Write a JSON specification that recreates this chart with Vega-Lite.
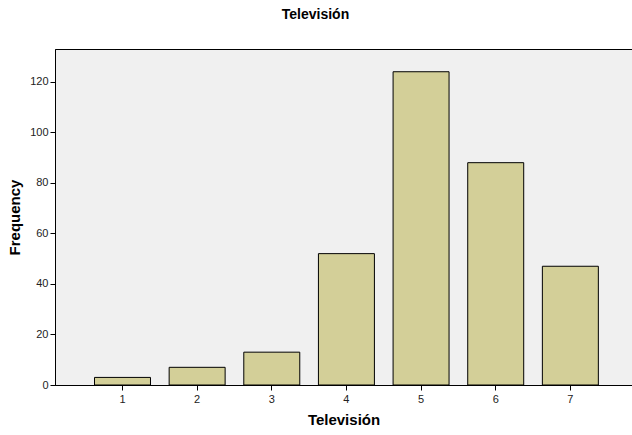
{
  "$schema": "https://vega.github.io/schema/vega-lite/v6.json",
  "width": 577,
  "height": 336,
  "autosize": {"type": "none"},
  "padding": {"left": 55, "top": 49, "right": 0, "bottom": 50},
  "background": "white",
  "title": {
    "text": "Televisión",
    "font": "Liberation Sans",
    "fontSize": 14,
    "fontWeight": "bold",
    "color": "black",
    "anchor": "middle",
    "frame": "group",
    "dx": -28,
    "offset": 27
  },
  "config": {
    "view": {"fill": "#f0f0f0", "stroke": "black", "strokeWidth": 1},
    "axis": {
      "labelFont": "Liberation Sans",
      "labelFontSize": 11,
      "labelColor": "#222",
      "titleFont": "Liberation Sans",
      "titleFontSize": 15,
      "titleFontWeight": "bold",
      "titleColor": "black",
      "domainColor": "black",
      "tickColor": "black",
      "grid": false
    }
  },
  "data": {
    "values": [
      {"Televisión": "1", "Frequency": 3},
      {"Televisión": "2", "Frequency": 7},
      {"Televisión": "3", "Frequency": 13},
      {"Televisión": "4", "Frequency": 52},
      {"Televisión": "5", "Frequency": 124},
      {"Televisión": "6", "Frequency": 88},
      {"Televisión": "7", "Frequency": 47}
    ]
  },
  "mark": {"type": "bar", "fill": "#d3cf98", "stroke": "black", "strokeWidth": 1},
  "encoding": {
    "x": {
      "field": "Televisión",
      "type": "ordinal",
      "scale": {"paddingInner": 0.25, "paddingOuter": 0.49, "align": 0.54},
      "axis": {"labelAngle": 0, "tickSize": 5, "labelPadding": 3, "titlePadding": 8}
    },
    "y": {
      "field": "Frequency",
      "type": "quantitative",
      "scale": {"domain": [0, 133], "nice": false},
      "axis": {"values": [0, 20, 40, 60, 80, 100, 120], "tickSize": 5, "labelPadding": 2, "titlePadding": 7}
    }
  }
}
